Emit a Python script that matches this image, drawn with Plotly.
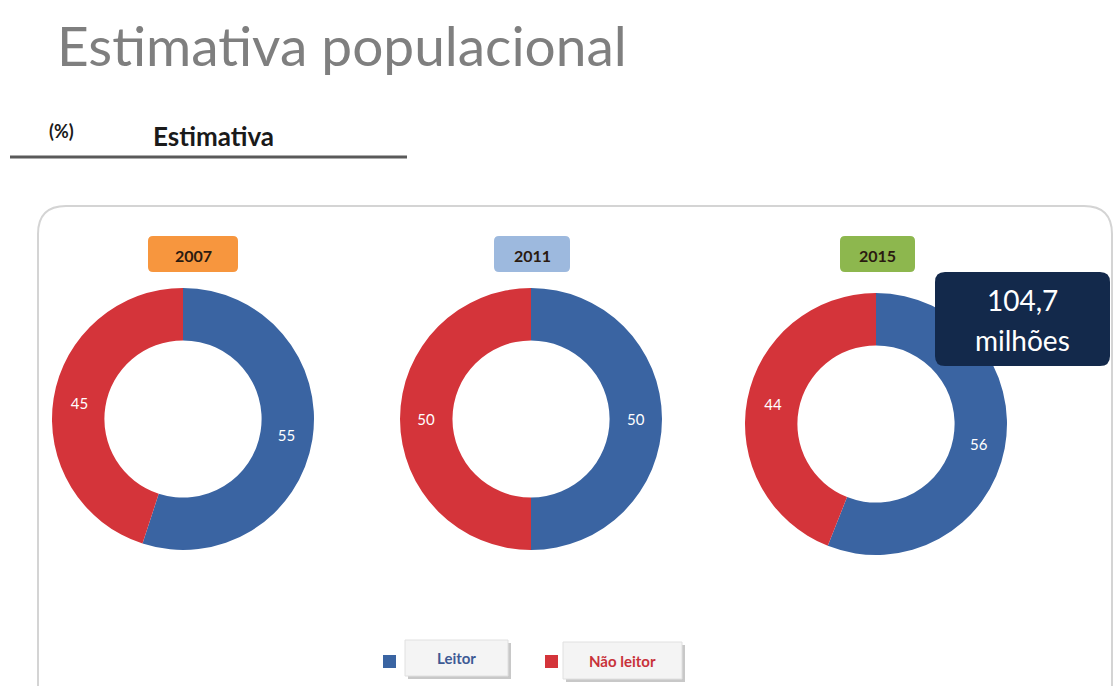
import plotly.graph_objects as go

W, H = 1115, 686

years = ["2007", "2011", "2015"]
categories = ["Leitor", "Não leitor"]
leitor = [55, 50, 56]
nao_leitor = [45, 50, 44]
year_colors = ["#F7963E", "#9DB9DE", "#8DB74E"]
callout_lines = ["104,7", "milhões"]

BLUE = "#3A64A2"
RED = "#D4343A"


def X(x):
    return x / W


def Y(y):
    return 1 - y / H


def rrect(x0, y0, x1, y1, r):
    return (
        f"M {X(x0 + r)} {Y(y0)} L {X(x1 - r)} {Y(y0)} "
        f"Q {X(x1)} {Y(y0)} {X(x1)} {Y(y0 + r)} L {X(x1)} {Y(y1 - r)} "
        f"Q {X(x1)} {Y(y1)} {X(x1 - r)} {Y(y1)} L {X(x0 + r)} {Y(y1)} "
        f"Q {X(x0)} {Y(y1)} {X(x0)} {Y(y1 - r)} L {X(x0)} {Y(y0 + r)} "
        f"Q {X(x0)} {Y(y0)} {X(x0 + r)} {Y(y0)} Z"
    )


def label(x, y, text, size, color, anchor="center", family="Lato"):
    return dict(x=X(x), y=Y(y), xref="paper", yref="paper",
                xanchor=anchor, yanchor="middle", text=text, showarrow=False,
                font=dict(size=size, color=color, family=family))


fig = go.Figure()

# donut placement (pixel centres and radius)
centres = [(183, 419), (531, 419), (876, 424)]
radius = 131

for i, yr in enumerate(years):
    cx, cy = centres[i]
    fig.add_trace(go.Pie(
        labels=categories,
        values=[leitor[i], nao_leitor[i]],
        hole=0.6,
        sort=False,
        direction="clockwise",
        rotation=0,
        marker=dict(colors=[BLUE, RED], line=dict(width=0)),
        textinfo="value",
        textposition="inside",
        insidetextorientation="horizontal",
        textfont=dict(color="white", size=15, family="Lato"),
        domain=dict(x=[X(cx - radius), X(cx + radius)],
                    y=[Y(cy + radius), Y(cy - radius)]),
        showlegend=False,
        hoverinfo="label+value",
        name=yr,
    ))

shapes = []
annotations = []

# outer rounded panel
shapes.append(dict(type="path", xref="paper", yref="paper",
                   path=rrect(38, 206, 1112, 720, 28),
                   line=dict(color="#D4D4D4", width=2),
                   fillcolor="rgba(0,0,0,0)", layer="below"))

# header rule
shapes.append(dict(type="line", xref="paper", yref="paper",
                   x0=X(10), x1=X(407), y0=Y(157), y1=Y(157),
                   line=dict(color="#5A5A5A", width=3)))

# year tags
tag_boxes = [(148, 236, 238, 272), (494, 236, 570, 272), (840, 236, 915, 272)]
for i, (x0, y0, x1, y1) in enumerate(tag_boxes):
    shapes.append(dict(type="path", xref="paper", yref="paper",
                       path=rrect(x0, y0, x1, y1, 5),
                       line=dict(width=0), fillcolor=year_colors[i]))
    annotations.append(label((x0 + x1) / 2, (y0 + y1) / 2 + 1,
                             f"<b>{years[i]}</b>", 16, "#2A1A10"))

# callout box
shapes.append(dict(type="path", xref="paper", yref="paper",
                   path=rrect(935, 272, 1110, 366, 10),
                   line=dict(width=0), fillcolor="#13294B", layer="above"))
annotations.append(label(1022, 300, callout_lines[0], 28, "white"))
annotations.append(label(1022, 340, callout_lines[1], 28, "white"))

# legend
legend_items = [
    (categories[0], BLUE, "#3D5A94", (383, 655, 396, 668), (405, 640, 508, 676)),
    (categories[1], RED, "#C8323A", (545, 655, 558, 668), (563, 642, 682, 679)),
]
for name, sq_col, txt_col, sq, box in legend_items:
    shapes.append(dict(type="rect", xref="paper", yref="paper",
                       x0=X(sq[0]), x1=X(sq[2]), y0=Y(sq[3]), y1=Y(sq[1]),
                       line=dict(width=0), fillcolor=sq_col))
    bx0, by0, bx1, by1 = box
    shapes.append(dict(type="rect", xref="paper", yref="paper",
                       x0=X(bx0 + 3), x1=X(bx1 + 3), y0=Y(by1 + 3), y1=Y(by0 + 3),
                       line=dict(width=0), fillcolor="#C8C8C8"))
    shapes.append(dict(type="rect", xref="paper", yref="paper",
                       x0=X(bx0), x1=X(bx1), y0=Y(by1), y1=Y(by0),
                       line=dict(color="#E0E0E0", width=1), fillcolor="#F4F4F4"))
    annotations.append(label((bx0 + bx1) / 2, (by0 + by1) / 2,
                             f"<b>{name}</b>", 15, txt_col))

# titles
annotations.append(label(55, 45, "Estimativa populacional", 55, "#7F7F7F", anchor="left"))
annotations.append(label(47, 131, "<b>(%)</b>", 18, "#1A1A1A", anchor="left"))
annotations.append(label(151, 136, "<b>Estimativa</b>", 26, "#1A1A1A", anchor="left"))

fig.update_layout(
    width=W, height=H,
    margin=dict(l=0, r=0, t=0, b=0),
    paper_bgcolor="white",
    plot_bgcolor="white",
    shapes=shapes,
    annotations=annotations,
)

fig.write_html("out.html")
